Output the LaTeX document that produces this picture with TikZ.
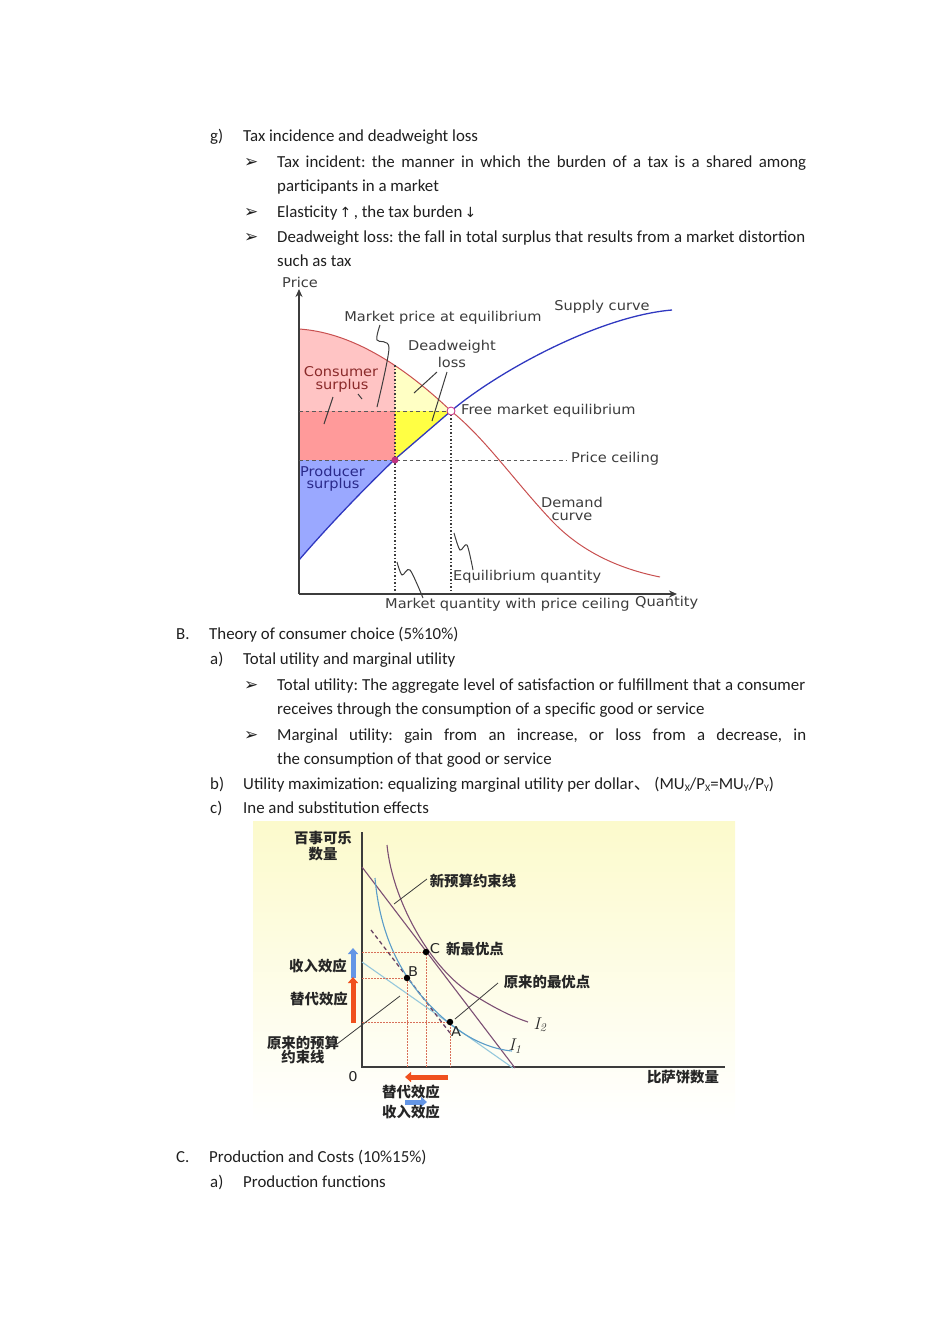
\documentclass[tikz,border=0pt]{standalone}
\usepackage{fontspec}
\usepackage{xcolor}
\usepackage{tikz}
\usetikzlibrary{arrows.meta,positioning,calc}
\setmainfont{Carlito}
\newfontfamily\chartfont[FakeStretch=1.08]{DejaVu Sans}
\newfontfamily\arrowfont{DejaVu Sans}
\newfontfamily\cjk{Noto Sans CJK SC}
\frenchspacing
\definecolor{csurplus}{HTML}{FFC4C4}
\definecolor{cshared}{HTML}{FF9A9A}
\definecolor{dwlight}{HTML}{FFFFC4}
\definecolor{dwstrong}{HTML}{FFFF44}
\definecolor{psurplus}{HTML}{9AA8FF}
\definecolor{demandline}{HTML}{C85050}
\definecolor{supplyline}{HTML}{3038C0}
\definecolor{redtext}{HTML}{8A2A2A}
\definecolor{bluetext}{HTML}{2A2A8A}
\definecolor{chartgrey}{HTML}{3C3C3C}
\definecolor{panelyellow}{HTML}{FCFACC}
\definecolor{budgetnew}{HTML}{7C4F74}
\definecolor{budgetold}{HTML}{96C8DC}
\definecolor{curveblue}{HTML}{5A9CC8}
\definecolor{dotred}{HTML}{D8705A}
\definecolor{effectred}{HTML}{F0501E}
\definecolor{effectblue}{HTML}{6496E6}
\tikzset{
  bodytext/.style={anchor=base west,inner sep=0pt,font=\fontsize{16.85}{20}\selectfont,text=black!88},
  chartlabel/.style={inner sep=0pt,text=chartgrey,font=\chartfont\fontsize{13.5}{16}\selectfont},
  pointlabel/.style={inner sep=0pt,text=black!85,font=\chartfont\fontsize{13.5}{16}\selectfont},
  curvelabel/.style={inner sep=0pt,text=black!85,font=\fontfamily{lmr}\itshape\fontsize{17}{19}\selectfont},
  leader/.style={draw=chartgrey,line width=1pt},
  thinleader/.style={draw=chartgrey,line width=0.8pt},
  cjklabel/.style={inner sep=0pt,text=black!85,font=\cjk\bfseries\fontsize{14.4}{17}\selectfont},
  bigeffect/.style={line width=5pt,-{Triangle[length=6pt,width=10pt]}},
  reddots/.style={draw=dotred,line width=0.8pt,dash pattern=on 1.5pt off 1.5pt},
  pricedash/.style={draw=chartgrey!85,line width=1pt,dash pattern=on 3.5pt off 3pt},
  qtydots/.style={draw=chartgrey,line width=1.1pt,dash pattern=on 1.5pt off 2pt},
  optpoint/.style={circle,fill=black,inner sep=0pt,minimum size=6.5pt}
}
\newcommand{\tick}{\arrowfont\fontsize{17}{20}\selectfont\symbol{"27A2}}
\newcommand{\fullline}[1]{\makebox[529pt][s]{#1}}
\newcommand{\lowtext}[1]{\raisebox{-2pt}{\fontsize{10}{11}\selectfont #1}}
\newcommand{\demandpath}{(299,329) .. controls (345,332) and (395,358) .. (451,411)}
\begin{document}
\begin{tikzpicture}[x=1pt,y=-1pt]
\useasboundingbox (0,0) rectangle (950,1344);
% text above the first chart
\node[bodytext] (itemg) at (210,141) {g)};
\node[bodytext] (titleg) at (243,141) {Tax incidence and deadweight loss};
\node[bodytext] (tickone) at (244,167) {\tick};
\node[bodytext] (incidentone) at (277,167) {\fullline{Tax incident: the manner in which the burden of a tax is a shared among}};
\node[bodytext] (incidenttwo) at (277,191) {participants in a market};
\node[bodytext] (ticktwo) at (244,217) {\tick};
\node[bodytext] (elastic) at (277,217) {Elasticity\kern-1.5pt{} {\arrowfont\fontsize{14}{16}\selectfont ↑}\kern-1.5pt{} , the tax burden\kern-1.5pt{} {\arrowfont\fontsize{14}{16}\selectfont ↓}};
\node[bodytext] (tickthree) at (244,242) {\tick};
\node[bodytext] (lossone) at (277,242) {\makebox[528pt][s]{Deadweight loss: the fall in total surplus that results from a market distortion}};
\node[bodytext] (losstwo) at (277,266) {such as tax};
% first chart
\begin{scope}
\clip (299,300) rectangle (395,411);
\fill[csurplus] (299,411) -- \demandpath -- cycle;
\end{scope}
\begin{scope}
\clip (395,300) rectangle (451,411);
\fill[dwlight] (299,411) -- \demandpath -- cycle;
\end{scope}
\fill[cshared] (299,411) rectangle (395,460);
\fill[dwstrong] (395,411) -- (451,411) -- (395,460) -- cycle;
\fill[psurplus] (299,460) -- (394,460) .. controls (365,488) and (330,524) .. (299,560) -- cycle;
\draw[demandline,line width=1pt] \demandpath .. controls (485,438) and (515,482) .. (553,522) .. controls (585,555) and (625,570) .. (660,577);
\draw[supplyline,line width=1.3pt] (299,560) .. controls (330,524) and (365,488) .. (394,460) -- (451,411) .. controls (500,370) and (600,316) .. (672,310);
\coordinate (yaxis) at (299,289);
\coordinate (origin) at (299,594);
\coordinate (xaxis) at (677,594);
\draw[chartgrey,line width=1.5pt,-{Stealth[length=8pt,width=7pt]}] (origin) -- (yaxis);
\draw[chartgrey,line width=1.5pt,-{Stealth[length=8pt,width=7pt]}] (origin) -- (xaxis);
\coordinate (equilibrium) at (451,411);
\coordinate (ceiling) at (395,460);
\draw[pricedash] (299,411) -- (equilibrium);
\draw[pricedash] (299,460) -- (566,460);
\draw[qtydots] (395,365) -- (395,594);
\draw[qtydots] (equilibrium) -- (451,594);
\draw[leader] plot[smooth] coordinates {(380,325) (377,340) (389,348) (377,407)};
\draw[leader] (437,372) -- (414,393);
\draw[leader] (447,372) -- (432,421);
\draw[leader] (333,397) -- (324,424);
\draw[leader] (358,394) -- (362,399);
\draw[leader] plot[smooth] coordinates {(454,533) (460,550) (467,545) (473,570)};
\draw[leader] plot[smooth] coordinates {(397,562) (402,575) (410,570) (423,598)};
\node[circle,draw=magenta!80!black,fill=white,line width=0.8pt,inner sep=0pt,minimum size=8pt] (freedot) at (equilibrium) {};
\node[circle,fill=magenta!75!black,inner sep=0pt,minimum size=7pt] (ceildot) at (ceiling) {};
\node[chartlabel] (pricelab) at (300,282) {Price};
\node[chartlabel] (marketprice) at (443,318) {Market price at equilibrium};
\node[chartlabel] (deadone) at (452,347) {Deadweight};
\node[chartlabel] (deadtwo) at (452,362) {loss};
\node[chartlabel,text=redtext] (consone) at (341,372) {Consumer};
\node[chartlabel,text=redtext] (constwo) at (342,386) {surplus};
\node[chartlabel] (supplylab) at (602,307) {Supply curve};
\node[chartlabel,anchor=west] (freelab) at (461,411) {Free market equilibrium};
\node[chartlabel,anchor=west] (ceilinglab) at (571,459) {Price ceiling};
\node[chartlabel,text=bluetext,anchor=west] (prodone) at (300,471) {Producer};
\node[chartlabel,text=bluetext] (prodtwo) at (333,485) {surplus};
\node[chartlabel] (demandone) at (572,502) {Demand};
\node[chartlabel] (demandtwo) at (572,517) {curve};
\node[chartlabel,anchor=west] (eqqty) at (453,577) {Equilibrium quantity};
\node[chartlabel,anchor=west] (ceilqty) at (385,605) {Market quantity with price ceiling};
\node[chartlabel,anchor=west] (qtylab) at (635,603) {Quantity};
% text between the charts
\node[bodytext] (itemb) at (176,639) {B.};
\node[bodytext] (titleb) at (209,639) {Theory of consumer choice (5\%10\%)};
\node[bodytext] (itemba) at (210,664) {a)};
\node[bodytext] (titleba) at (243,664) {Total utility and marginal utility};
\node[bodytext] (tickfour) at (244,690) {\tick};
\node[bodytext] (totalone) at (277,690) {\makebox[528pt][s]{Total utility: The aggregate level of satisfaction or fulfillment that a consumer}};
\node[bodytext] (totaltwo) at (277,714) {receives through the consumption of a specific good or service};
\node[bodytext] (tickfive) at (244,740) {\tick};
\node[bodytext] (marginone) at (277,740) {\fullline{Marginal utility: gain from an increase, or loss from a decrease, in}};
\node[bodytext] (margintwo) at (277,764) {the consumption of that good or service};
\node[bodytext] (itembb) at (210,789) {b)};
\node[bodytext] (titlebb) at (243,789) {Utility maximization: equalizing marginal utility per dollar{\cjk 、} (MU\lowtext{X}/P\lowtext{X}=MU\lowtext{Y}/P\lowtext{Y})};
\node[bodytext] (itembc) at (210,813) {c)};
\node[bodytext] (titlebc) at (243,813) {Ine and substitution effects};
% second chart
\shade[top color=panelyellow,bottom color=white] (253,821) rectangle (735,1122);
\draw[chartgrey,line width=1.1pt] (362,832) -- (362,1067) -- (725,1067);
\coordinate (newtop) at (362,867);
\coordinate (newend) at (515,1068);
\coordinate (oldtop) at (362,962);
\coordinate (oldend) at (513,1068);
\draw[budgetold,line width=1.1pt] (oldtop) -- (oldend);
\draw[budgetnew,line width=1.1pt] (newtop) -- (newend);
\draw[budgetnew!85!black,line width=1.3pt,dash pattern=on 4pt off 3pt] (371,930) -- (450,1033);
\draw[budgetnew,line width=1.1pt] (387,845) .. controls (393,905) and (435,975) .. (477,997) .. controls (495,1008) and (510,1016) .. (528,1022);
\draw[curveblue,line width=1.1pt] (375,878) .. controls (380,935) and (400,972) .. (425,1000) .. controls (450,1028) and (480,1048) .. (512,1051);
\coordinate (cpoint) at (426,952);
\coordinate (bpoint) at (407,978);
\coordinate (apoint) at (450,1022);
\draw[reddots] (362,952) -- (cpoint) -- (426,1067);
\draw[reddots] (362,978) -- (bpoint) -- (407,1067);
\draw[reddots] (362,1022) -- (apoint) -- (450,1067);
\node[optpoint] (cdot) at (cpoint) {};
\node[optpoint] (bdot) at (bpoint) {};
\node[optpoint] (adot) at (apoint) {};
\draw[effectblue,bigeffect] (353,978) -- (353,948);
\draw[effectred,bigeffect] (353,1023) -- (353,977);
\draw[effectred,bigeffect] (448,1077) -- (405,1077);
\draw[effectblue,bigeffect] (405,1102) -- (427,1102);
\draw[thinleader] (427,879) -- (394,904);
\draw[thinleader] (498,983) -- (455,1019);
\draw[thinleader] (400,996) -- (337,1044);
\node[cjklabel] (pepsione) at (323,838) {百事可乐};
\node[cjklabel] (pepsitwo) at (323,854) {数量};
\node[cjklabel] (newbudget) at (473,881) {新预算约束线};
\node[cjklabel] (newbest) at (475,949) {新最优点};
\node[cjklabel] (oldbest) at (547,982) {原来的最优点};
\node[cjklabel] (incomeleft) at (318,966) {收入效应};
\node[cjklabel] (subleft) at (319,999) {替代效应};
\node[cjklabel] (oldbudone) at (303,1043) {原来的预算};
\node[cjklabel] (oldbudtwo) at (303,1057) {约束线};
\node[cjklabel] (pizza) at (683,1077) {比萨饼数量};
\node[cjklabel] (subbottom) at (411,1092) {替代效应};
\node[cjklabel] (incomebottom) at (411,1112) {收入效应};
\node[pointlabel] (clab) at (435,949) {C};
\node[pointlabel] (blab) at (413,972) {B};
\node[pointlabel] (alab) at (456,1032) {A};
\node[pointlabel] (zero) at (353,1077) {0};
\node[curvelabel] (itwo) at (540,1025) {I\textsubscript{2}};
\node[curvelabel] (ione) at (515,1046) {I\textsubscript{1}};
% text below the second chart
\node[bodytext] (itemc) at (176,1162) {C.};
\node[bodytext] (titlec) at (209,1162) {Production and Costs (10\%15\%)};
\node[bodytext] (itemca) at (210,1187) {a)};
\node[bodytext] (titleca) at (243,1187) {Production functions};
\end{tikzpicture}
\end{document}
